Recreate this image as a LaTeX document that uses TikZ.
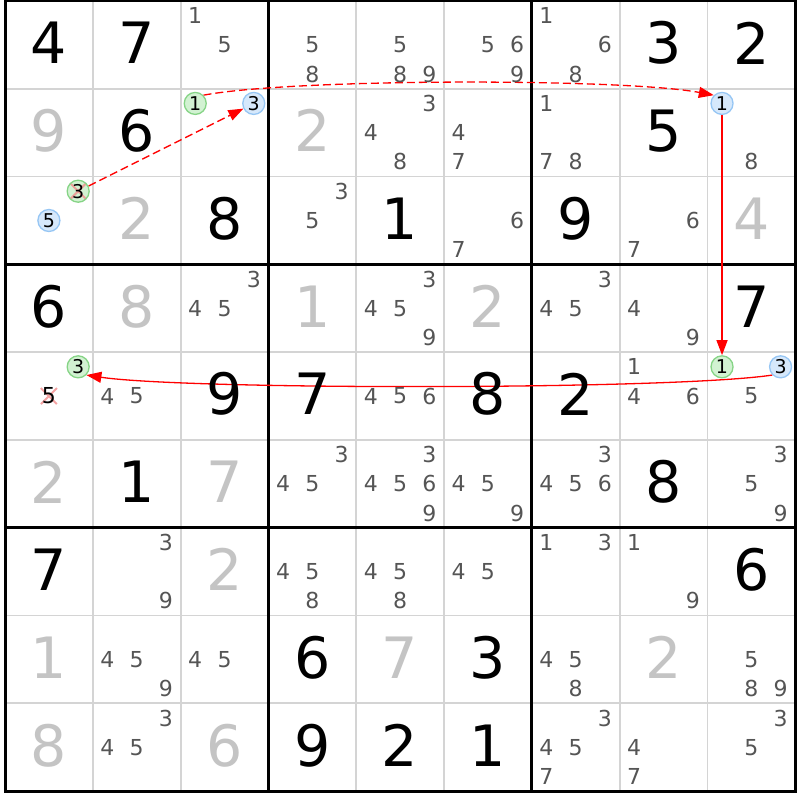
\documentclass[tikz,border=0pt]{standalone}
\usepackage{fontspec}
\setmainfont{DejaVu Sans}
\usetikzlibrary{arrows.meta}
\pgfdeclarelayer{bg}
\pgfsetlayers{bg,main}
\definecolor{candgray}{HTML}{555555}
\definecolor{solvgray}{HTML}{C4C4C4}
\definecolor{thingray}{HTML}{D4D4D4}
\definecolor{cgreenfill}{HTML}{D2F2D2}
\definecolor{cgreendraw}{HTML}{86D486}
\definecolor{cbluefill}{HTML}{D6E8FB}
\definecolor{cbluedraw}{HTML}{96C6F4}
\definecolor{linkred}{HTML}{FF0000}
\definecolor{xpink}{HTML}{F28C8C}
\tikzset{
 given/.style={inner sep=0pt, font=\fontsize{57}{57}\selectfont, text=black},
 solved/.style={given, text=solvgray},
 cand/.style={inner sep=0pt, font=\fontsize{22}{22}\selectfont, text=candgray},
 ccirc/.style={circle, inner sep=0pt, minimum size=22pt, line width=1.3pt, font=\fontsize{19}{19}\selectfont, text=black},
 gcirc/.style={ccirc, draw=cgreendraw, fill=cgreenfill},
 bcirc/.style={ccirc, draw=cbluedraw, fill=cbluefill},
 xcross/.style={path picture={\draw[xpink, opacity=.8, line width=2pt]
   ([shift={(-8pt,-8pt)}]path picture bounding box.center) -- ([shift={(8pt,8pt)}]path picture bounding box.center)
   ([shift={(-8pt,8pt)}]path picture bounding box.center) -- ([shift={(8pt,-8pt)}]path picture bounding box.center);}},
 crossed/.style={cand, xcross, text=black, minimum size=20pt},
 link/.style={draw=linkred, line width=1.3pt, -{Triangle[length=15pt,width=11pt]}},
 weak/.style={link, dash pattern=on 8pt off 4pt},
 thinline/.style={draw=thingray, line width=1.8pt},
 boxline/.style={draw=black, line width=3pt},
}
\newcommand\Given[3]{\node[given] (v#1#2) at ({48.9+87.8*#2},{757.1-87.8*#1}) {#3};}
\newcommand\Solved[3]{\node[solved] (v#1#2) at ({48.9+87.8*#2},{757.1-87.8*#1}) {#3};}
\newcommand\Cand[4][cand]{\node[#1] (k#2#3d#4) at ({19.63+87.8*#3+29.27*mod(#4-1,3)},{784.37-87.8*#2-29.27*floor((#4-1)/3)}) {#4};}
\newcommand\Cands[3]{\foreach \d in {#3}{\Cand{#1}{#2}{\d}}}
\begin{document}
\begin{tikzpicture}[x=1pt,y=1pt]
\useasboundingbox (0,0) rectangle (800,800);
% row 0
\Given{0}{0}{4} \Given{0}{1}{7} \Cands{0}{2}{1,5} \Cands{0}{3}{5,8} \Cands{0}{4}{5,8,9}
\Cands{0}{5}{5,6,9} \Cands{0}{6}{1,6,8} \Given{0}{7}{3} \Given{0}{8}{2}
% row 1
\Solved{1}{0}{9} \Given{1}{1}{6} \Cand[gcirc]{1}{2}{1} \Cand[bcirc]{1}{2}{3} \Solved{1}{3}{2}
\Cands{1}{4}{3,4,8} \Cands{1}{5}{4,7} \Cands{1}{6}{1,7,8} \Given{1}{7}{5} \Cand[bcirc]{1}{8}{1} \Cand{1}{8}{8}
% row 2
\Cand[gcirc,xcross]{2}{0}{3} \Cand[bcirc]{2}{0}{5} \Solved{2}{1}{2} \Given{2}{2}{8} \Cands{2}{3}{3,5}
\Given{2}{4}{1} \Cands{2}{5}{6,7} \Given{2}{6}{9} \Cands{2}{7}{6,7} \Solved{2}{8}{4}
% row 3
\Given{3}{0}{6} \Solved{3}{1}{8} \Cands{3}{2}{3,4,5} \Solved{3}{3}{1} \Cands{3}{4}{3,4,5,9}
\Solved{3}{5}{2} \Cands{3}{6}{3,4,5} \Cands{3}{7}{4,9} \Given{3}{8}{7}
% row 4
\Cand[gcirc]{4}{0}{3} \Cand[crossed]{4}{0}{5} \Cands{4}{1}{4,5} \Given{4}{2}{9} \Given{4}{3}{7}
\Cands{4}{4}{4,5,6} \Given{4}{5}{8} \Given{4}{6}{2} \Cands{4}{7}{1,4,6}
\Cand[gcirc]{4}{8}{1} \Cand[bcirc]{4}{8}{3} \Cand{4}{8}{5}
% row 5
\Solved{5}{0}{2} \Given{5}{1}{1} \Solved{5}{2}{7} \Cands{5}{3}{3,4,5} \Cands{5}{4}{3,4,5,6,9}
\Cands{5}{5}{4,5,9} \Cands{5}{6}{3,4,5,6} \Given{5}{7}{8} \Cands{5}{8}{3,5,9}
% row 6
\Given{6}{0}{7} \Cands{6}{1}{3,9} \Solved{6}{2}{2} \Cands{6}{3}{4,5,8} \Cands{6}{4}{4,5,8}
\Cands{6}{5}{4,5} \Cands{6}{6}{1,3} \Cands{6}{7}{1,9} \Given{6}{8}{6}
% row 7
\Solved{7}{0}{1} \Cands{7}{1}{4,5,9} \Cands{7}{2}{4,5} \Given{7}{3}{6} \Solved{7}{4}{7}
\Given{7}{5}{3} \Cands{7}{6}{4,5,8} \Solved{7}{7}{2} \Cands{7}{8}{5,8,9}
% row 8
\Solved{8}{0}{8} \Cands{8}{1}{3,4,5} \Solved{8}{2}{6} \Given{8}{3}{9} \Given{8}{4}{2}
\Given{8}{5}{1} \Cands{8}{6}{3,4,5,7} \Cands{8}{7}{4,7} \Cands{8}{8}{3,5}
\begin{pgfonlayer}{bg}
\fill[white] (0,0) rectangle (800,800);
\foreach \i in {1,2,4,5,7,8} {
  \draw[thinline] ({5+87.8*\i},799) -- ({5+87.8*\i},8.8);
  \draw[thinline] (5,{799-87.8*\i}) -- (795.2,{799-87.8*\i});
}
\foreach \i in {3,6} {
  \draw[boxline] ({5+87.8*\i},799) -- ({5+87.8*\i},8.8);
  \draw[boxline] (5,{799-87.8*\i}) -- (795.2,{799-87.8*\i});
}
\draw[boxline] (5,799) rectangle (795.2,8.8);
\draw[weak] (k20d3) -- (k12d3);
\draw[weak] (k12d1.45) .. controls +(90,17) and +(-90,17) .. (k18d1.135);
\draw[link] (k18d1) -- (k48d1);
\draw[link] (k48d3.225) .. controls +(-100,-15) and +(100,-15) .. (k40d3.-45);
\end{pgfonlayer}
\end{tikzpicture}
\end{document}
